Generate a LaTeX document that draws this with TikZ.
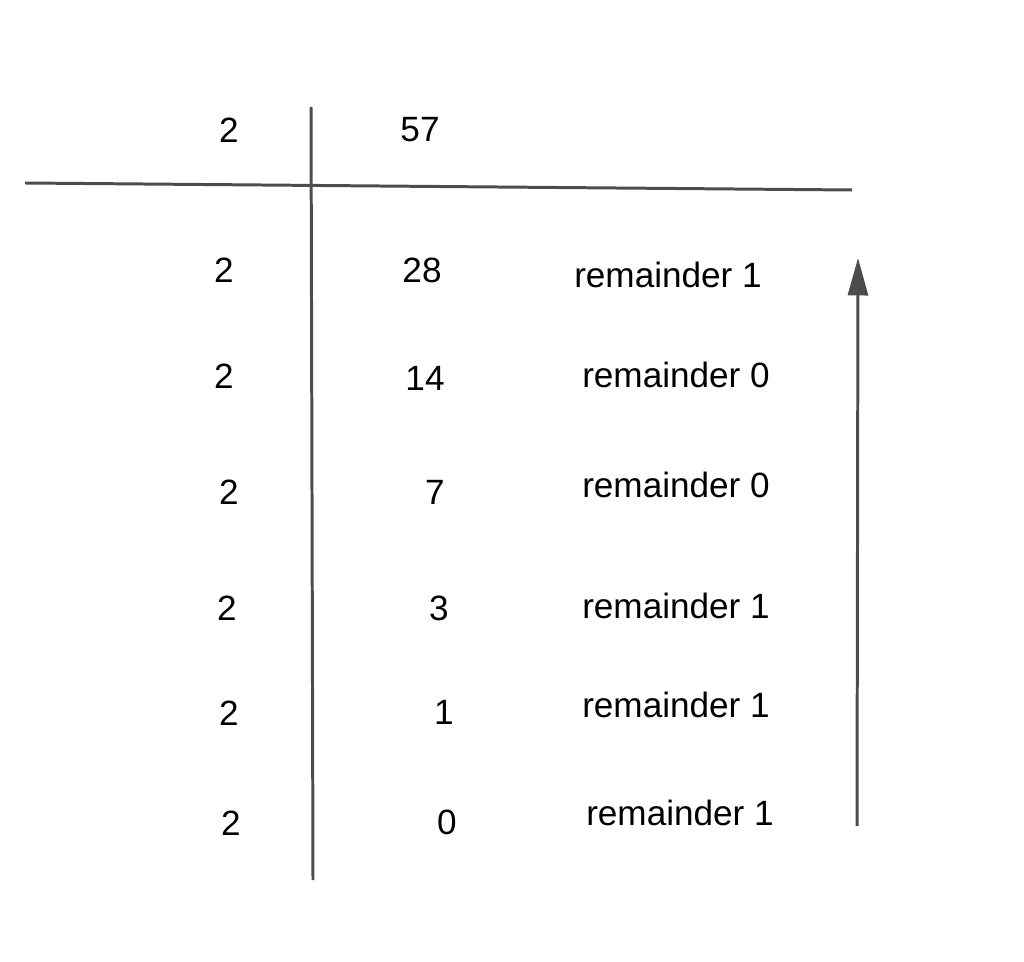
\documentclass[tikz,border=0pt]{standalone}
\usepackage{fontspec}
\setmainfont{Liberation Sans}
\usetikzlibrary{arrows.meta}
\begin{document}
\begin{tikzpicture}
[
x=0.02cm, y=-0.02cm,
Label/.style={inner sep=0pt, font=\fontsize{20}{24}\selectfont},
Rule/.style={draw=black!70, line width=1.7pt},
UpArrow/.style={-{Stealth[length=0.75cm, width=0.4cm, inset=0pt]}, draw=black!70, fill=black!70, line width=1.7pt},
]
\useasboundingbox (0,0) rectangle (1024,962);

% header row
\node[Label] (div0) at (229,130) {2};
\node[Label] (num0) at (420,130) {57};

% division rows
\foreach \i/\dx/\dy/\nx/\ny/\n/\rx/\ry/\r in {%
  1/224/270/422/270/28/668/275/1,
  2/224/376/425/378/14/676/375/0,
  3/229/492/435/492/7/676/485/0,
  4/227/608/439/608/3/676/606/1,
  5/229/713/444/712/1/676/705/1,
  6/231/823/447/822/0/680/813/1}
{
  \node[Label] (div\i) at (\dx,\dy) {2};
  \node[Label] (num\i) at (\nx,\ny) {\n};
  \node[Label] (rem\i) at (\rx,\ry) {remainder \r};
}

\coordinate (vtop) at (311,107);
\coordinate (vbot) at (313,880);
\coordinate (hleft) at (25,183);
\coordinate (hright) at (852,190);
\coordinate (abot) at (857,826);
\coordinate (atop) at (858,258);

\draw[Rule] (vtop)--(vbot);
\draw[Rule] (hleft)--(hright);
\draw[UpArrow] (abot)--(atop);

\end{tikzpicture}
\end{document}
